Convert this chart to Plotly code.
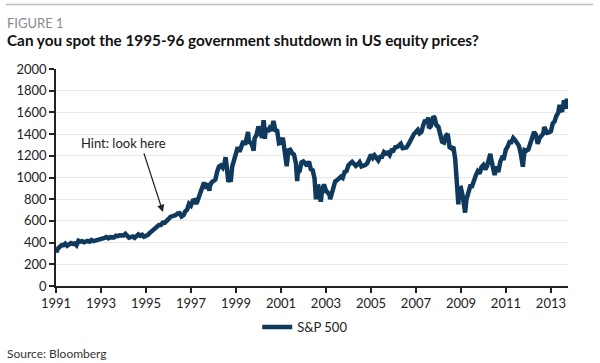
import pandas as pd
import plotly.graph_objects as go

# Month-end closes of the S&P 500
sp_1991 = [343.9, 367.1, 375.2, 375.3, 389.8, 371.2, 387.8, 395.4, 387.9, 392.5, 375.2, 417.1]
sp_1992 = [408.8, 412.7, 403.7, 414.9, 415.4, 408.1, 424.2, 414.0, 417.8, 418.7, 431.4, 435.7]
sp_1993 = [438.8, 443.4, 451.7, 440.2, 450.2, 450.5, 448.1, 463.6, 458.9, 467.8, 461.8, 466.5]
sp_1994 = [481.6, 467.1, 445.8, 450.9, 456.5, 444.3, 458.3, 475.5, 462.7, 472.4, 453.7, 459.3]
sp_1995 = [470.4, 487.4, 500.7, 514.7, 533.4, 544.8, 562.1, 561.9, 584.4, 581.5, 605.4, 615.9]
sp_1996 = [636.0, 640.4, 645.5, 654.2, 669.1, 670.6, 639.9, 652.0, 687.3, 705.3, 757.0, 740.7]
sp_1997 = [786.2, 790.8, 757.1, 801.3, 848.3, 885.1, 954.3, 899.5, 947.3, 914.6, 955.4, 970.4]
sp_1998 = [980.3, 1049.3, 1101.8, 1111.8, 1090.8, 1133.8, 1120.7, 957.3, 1017.0, 1098.7, 1163.6, 1229.2]
sp_1999 = [1279.6, 1238.3, 1286.4, 1335.2, 1301.8, 1372.7, 1328.7, 1320.4, 1282.7, 1362.9, 1389.0, 1469.3]
sp_2000 = [1394.5, 1366.4, 1498.6, 1452.4, 1420.6, 1454.6, 1430.8, 1517.7, 1436.5, 1429.4, 1315.2, 1320.3]
sp_2001 = [1366.0, 1239.9, 1160.3, 1249.5, 1255.8, 1224.4, 1211.2, 1133.6, 1040.9, 1059.8, 1139.5, 1148.1]
sp_2002 = [1130.2, 1106.7, 1147.4, 1076.9, 1067.1, 989.8, 911.6, 916.1, 815.3, 885.8, 936.3, 879.8]
sp_2003 = [855.7, 841.2, 848.2, 916.9, 963.6, 974.5, 990.3, 1008.0, 996.0, 1050.7, 1058.2, 1111.9]
sp_2004 = [1131.1, 1144.9, 1126.2, 1107.3, 1120.7, 1140.8, 1101.7, 1104.2, 1114.6, 1130.2, 1173.8, 1211.9]
sp_2005 = [1181.3, 1203.6, 1180.6, 1156.9, 1191.5, 1191.3, 1234.2, 1220.3, 1228.8, 1207.0, 1249.5, 1248.3]
sp_2006 = [1280.1, 1280.7, 1294.9, 1310.6, 1270.1, 1270.2, 1276.7, 1303.8, 1335.9, 1377.9, 1400.6, 1418.3]
sp_2007 = [1438.2, 1406.8, 1420.9, 1482.4, 1530.6, 1503.4, 1455.3, 1474.0, 1526.8, 1549.4, 1481.1, 1468.4]
sp_2008 = [1378.6, 1330.6, 1322.7, 1385.6, 1400.4, 1280.0, 1267.4, 1282.8, 1166.4, 968.8, 896.2, 903.3]
sp_2009 = [825.9, 735.1, 797.9, 872.8, 919.1, 919.3, 987.5, 1020.6, 1057.1, 1036.2, 1095.6, 1115.1]
sp_2010 = [1073.9, 1104.5, 1169.4, 1186.7, 1089.4, 1030.7, 1101.6, 1049.3, 1141.2, 1183.3, 1180.6, 1257.6]
sp_2011 = [1286.1, 1327.2, 1325.8, 1363.6, 1345.2, 1320.6, 1292.3, 1218.9, 1131.4, 1253.3, 1247.0, 1257.6]
sp_2012 = [1312.4, 1365.7, 1408.5, 1397.9, 1310.3, 1362.2, 1379.3, 1406.6, 1440.7, 1412.2, 1416.2, 1426.2]
sp_2013 = [1498.1, 1514.7, 1569.2, 1597.6, 1630.7, 1606.3, 1685.7, 1633.0, 1681.6]

# Intra-month highs and lows visible in the chart
extreme_dates = ["1991-01-02", "1991-01-09", "1997-10-27", "1998-07-17", "1998-10-08",
                 "1999-07-16", "1999-10-15", "2000-03-24", "2000-04-14", "2000-09-01",
                 "2001-04-04", "2001-09-21", "2002-07-23", "2002-10-09", "2003-03-11",
                 "2007-07-19", "2007-10-09", "2008-11-20", "2009-03-09", "2010-04-23",
                 "2010-07-02", "2011-10-03", "2012-04-02", "2012-09-14", "2013-05-21",
                 "2013-08-02", "2013-09-18", "2013-10-04"]
extreme_values = [326.5, 311.5, 877.0, 1186.8, 959.4,
                  1418.8, 1247.4, 1527.5, 1356.6, 1520.8,
                  1103.3, 965.8, 797.7, 776.8, 800.7,
                  1553.1, 1565.2, 752.4, 676.5, 1217.3,
                  1022.6, 1099.2, 1419.0, 1465.8, 1669.2,
                  1709.7, 1725.5, 1690.5]

series_name = "S&P 500"
x_tick_labels = [str(y) for y in range(1991, 2014, 2)]
y_tick_values = list(range(0, 2001, 200))

monthly = (sp_1991 + sp_1992 + sp_1993 + sp_1994 + sp_1995 + sp_1996 + sp_1997 + sp_1998
           + sp_1999 + sp_2000 + sp_2001 + sp_2002 + sp_2003 + sp_2004 + sp_2005 + sp_2006
           + sp_2007 + sp_2008 + sp_2009 + sp_2010 + sp_2011 + sp_2012 + sp_2013)
monthly_dates = pd.date_range("1991-01-31", periods=len(monthly), freq=pd.offsets.MonthEnd())

df = pd.concat([
    pd.DataFrame({"date": monthly_dates, "value": monthly}),
    pd.DataFrame({"date": pd.to_datetime(extreme_dates), "value": extreme_values}),
]).sort_values("date")

LINE = "#0f3a5e"
FONT = "Lato, 'Open Sans', sans-serif"

fig = go.Figure()
fig.add_trace(go.Scatter(
    x=df["date"], y=df["value"], mode="lines", name=series_name,
    line=dict(color=LINE, width=4.5), showlegend=True,
))

fig.update_layout(
    width=600, height=363,
    margin=dict(l=56, r=32, t=69, b=77),
    paper_bgcolor="white", plot_bgcolor="white",
    font=dict(family=FONT, size=13, color="#222"),
    legend=dict(orientation="h", x=0.393, xanchor="left", y=-0.189, yanchor="middle",
                font=dict(size=13, color="#222"), bgcolor="rgba(0,0,0,0)",
                itemwidth=30),
    xaxis=dict(
        type="date",
        range=["1991-01-01", "2013-10-05"],
        tickvals=[f"{y}-01-01" for y in x_tick_labels],
        ticktext=x_tick_labels,
        showgrid=False, showline=True, linecolor="#222", linewidth=1.5,
        ticks="outside", ticklen=5, tickcolor="#222", tickwidth=1.5,
        tickfont=dict(size=13, color="#222"),
        zeroline=False,
    ),
    yaxis=dict(
        range=[0, 2000],
        tickvals=y_tick_values,
        showgrid=True, gridcolor="#e8e8e8", gridwidth=1,
        showline=True, linecolor="#222", linewidth=1.5,
        ticks="outside", ticklen=5, tickcolor="#222", tickwidth=1.5,
        tickfont=dict(size=13, color="#222"),
        zeroline=False,
    ),
    shapes=[dict(type="line", xref="paper", yref="paper",
                 x0=-0.098, x1=1.049, y0=1.297, y1=1.297,
                 line=dict(color="#bdbdbd", width=1.5))],
    annotations=[
        dict(text="FIGURE 1", xref="paper", yref="paper", x=-0.0996, y=1.212,
             xanchor="left", yanchor="middle", showarrow=False,
             font=dict(size=13, color="#8a8a8a")),
        dict(text="<b>Can you spot the 1995-96 government shutdown in US equity prices?</b>",
             xref="paper", yref="paper", x=-0.0996, y=1.133,
             xanchor="left", yanchor="middle", showarrow=False,
             font=dict(size=15.3, color="#111")),
        dict(text="Source: Bloomberg", xref="paper", yref="paper", x=-0.0996, y=-0.309,
             xanchor="left", yanchor="middle", showarrow=False,
             font=dict(size=12, color="#333")),
        dict(text="Hint: look here", x="1994-01-08", y=1318, xanchor="center",
             yanchor="middle", showarrow=False, font=dict(size=13, color="#222")),
        dict(text=" ", x="1995-10-03", y=682, showarrow=True, ax=-22, ay=-68,
             arrowhead=2, arrowsize=1.2, arrowwidth=1.2, arrowcolor="#222"),
    ],
)

fig.write_html("out.html", config={"displayModeBar": False},
               post_script="document.body.style.margin='0px';")
